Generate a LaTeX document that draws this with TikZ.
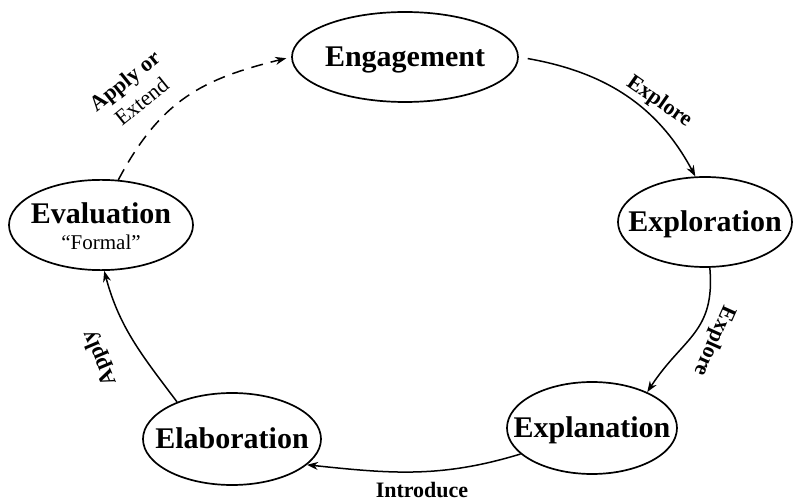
\documentclass[tikz,border=0pt]{standalone}
\usepackage{fontspec}
\setmainfont{Liberation Serif}
\usetikzlibrary{shapes.geometric,arrows.meta}
\begin{document}
\begin{tikzpicture}[x=1pt,y=1pt,
 stage/.style={ellipse,draw,line width=1.7pt,inner sep=0pt,font=\fontsize{30}{36}\selectfont\bfseries,text height=20pt,text depth=0pt},
 conn/.style={line width=1.5pt,-{Stealth[length=11pt,width=8pt]}},
 lbl/.style={font=\fontsize{22}{27}\selectfont\bfseries,inner sep=0pt}]
\useasboundingbox (0,0) rectangle (793,501);
\node[stage,minimum width=226pt,minimum height=90pt] (eng) at (405,444) {\makebox[0pt]{Engagement}};
\node[stage,minimum width=174pt,minimum height=90pt] (xpl) at (705,279) {\makebox[0pt]{Exploration}};
\node[stage,minimum width=170pt,minimum height=92pt] (expn) at (592,73) {\makebox[0pt]{Explanation}};
\node[stage,minimum width=178pt,minimum height=92pt] (elab) at (232,62) {\makebox[0pt]{Elaboration}};
\node[ellipse,draw,line width=1.7pt,inner sep=0pt,minimum width=184pt,minimum height=90pt] (ev) at (101,276)
  {\makebox[0pt]{\fontsize{21}{26}\selectfont\begin{tabular}{@{}c@{}}\rule{0pt}{30pt}{\fontsize{30}{36}\selectfont\bfseries Evaluation}\\ “Formal”\end{tabular}}};
\draw[conn,shorten <=9pt] (eng.east) to[out=-10,in=118] (xpl.102);
\draw[conn] (xpl.-84) to[out=-85,in=57,looseness=1.2] (expn.33);
\draw[conn] (expn.-160) to[out=197,in=-6] (elab.-19);
\draw[conn] (elab.146) to[out=127,in=-75] (ev.-86);
\draw[conn,dash pattern=on 12pt off 8pt,shorten >=5pt] (ev.69) to[out=62,in=194,looseness=1.1] (eng.west);
\node[lbl,rotate=-35] (lx1) at (659,399) {Explore};
\node[lbl,rotate=-114] (lx2) at (714,160) {Explore};
\node[lbl] (lin) at (422,11) {Introduce};
\node[lbl,rotate=113] (lap) at (100,143) {Apply};
\node[lbl,rotate=39,align=center] (lae) at (133,410) {Apply or\\{\mdseries Extend}};
\end{tikzpicture}
\end{document}
